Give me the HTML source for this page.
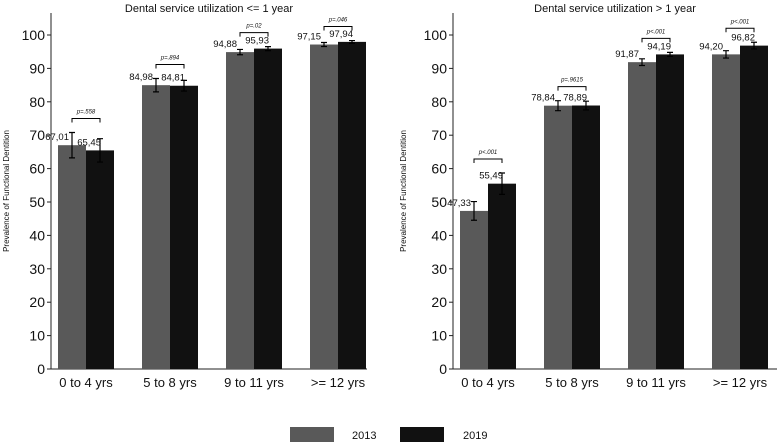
<!DOCTYPE html>
<html><head><meta charset="utf-8">
<style>
body{margin:0;background:#fff;}
svg{display:block;font-family:"Liberation Sans",Arial,sans-serif;}
</style></head>
<body>
<svg id="chart" width="779" height="447" viewBox="0 0 779 447"></svg>
<script>
const categories = ["0 to 4 yrs","5 to 8 yrs","9 to 11 yrs",">= 12 yrs"];
const seriesNames = ["2013","2019"];
const leftTitle = "Dental service utilization <= 1 year";
const rightTitle = "Dental service utilization > 1 year";
const left2013 = [67.01,84.98,94.88,97.15];
const left2019 = [65.45,84.81,95.93,97.94];
const left2013Err = [3.8,2.0,0.8,0.6];
const left2019Err = [3.5,1.6,0.6,0.4];
const left2013Lbl = ["67,01","84,98","94,88","97,15"];
const left2019Lbl = ["65,45","84,81","95,93","97,94"];
const leftP = ["p=.558","p=.894","p=.02","p=.046"];
const right2013 = [47.33,78.84,91.87,94.20];
const right2019 = [55.49,78.89,94.19,96.82];
const right2013Err = [2.8,1.5,1.0,1.1];
const right2019Err = [3.2,1.3,0.6,1.0];
const right2013Lbl = ["47,33","78,84","91,87","94,20"];
const right2019Lbl = ["55,49","78,89","94,19","96,82"];
const rightP = ["p<.001","p=.9615","p<.001","p<.001"];
const yTicks = [0,10,20,30,40,50,60,70,80,90,100];

const NS="http://www.w3.org/2000/svg";
const svg=document.getElementById('chart');
function mk(tag,attrs,parent){const e=document.createElementNS(NS,tag);for(const k in attrs)e.setAttribute(k,attrs[k]);(parent||svg).appendChild(e);return e;}
const Y0=369, PX=3.34;
function yS(v){return Y0-v*PX;}

function panel(ox,axisX,axisEnd,title,s1,s2,e1,e2,l1,l2,pv,name){
  const g=mk('g',{});
  
  
  const t=mk('text',{x:(axisX+axisEnd)/2,y:12,'text-anchor':'middle','font-size':11,fill:'#111'},g);
  t.textContent=title;
  
  
  const ax=mk('line',{x1:axisX,y1:13,x2:axisX,y2:Y0,stroke:'#222','stroke-width':1},g);
  
  
  const bx=mk('line',{x1:axisX,y1:Y0,x2:axisEnd,y2:Y0,stroke:'#222','stroke-width':1},g);
  
  
  yTicks.forEach(v=>{
    mk('line',{x1:axisX-4,y1:yS(v),x2:axisX,y2:yS(v),stroke:'#222'},g);
    const tl=mk('text',{x:axisX-6,y:yS(v)+5,'text-anchor':'end','font-size':14,fill:'#111'},g);
    tl.textContent=v;
    
    
  });
  const yt=mk('text',{transform:`translate(${ox+9},${(13+Y0)/2}) rotate(-90)`,'text-anchor':'middle','font-size':8,fill:'#111'},g);
  yt.textContent="Prevalence of Functional Dentition";
  
  
  const bw=28;
  categories.forEach((c,i)=>{
    const x0=axisX+7+i*84;
    [[s1,e1,l1,'#595959','bar-2013',-3],[s2,e2,l2,'#111111','bar-2019',1]].forEach((s,j)=>{
      const v=s[0][i], x=x0+j*bw, cx=x+bw/2;
      const r=mk('rect',{x:x,y:yS(v),width:bw,height:Y0-yS(v),fill:s[3]},g);
      
      
      const hi=yS(v+s[1][i]), lo=yS(v-s[1][i]);
      const eb=mk('path',{d:`M${cx},${hi}V${lo}M${cx-3},${hi}H${cx+3}M${cx-3},${lo}H${cx+3}`,stroke:'#000','stroke-width':1.2,fill:'none'},g);
      
      
      const lt=mk('text',{x:cx+s[5],y:yS(v)-5,'text-anchor':'end','font-size':9.5,fill:'#111'},g);
      lt.textContent=s[2][i];
      
      
    });
    const c1=x0+bw/2, c2=x0+bw*1.5;
    const top=Math.min(yS(s1[i]+e1[i]),yS(s2[i]+e2[i]))-14;
    const br=mk('path',{d:`M${c1},${top+4}V${top}H${c2}V${top+4}`,stroke:'#000','stroke-width':1,fill:'none'},g);
    
    
    const pt=mk('text',{x:(c1+c2)/2,y:top-5,'text-anchor':'middle','font-size':6,'font-style':'italic',fill:'#111'},g);
    pt.textContent=pv[i];
    
    
    const xl=mk('text',{x:x0+bw,y:387,'text-anchor':'middle','font-size':13,fill:'#111'},g);
    xl.textContent=c;
    
    
  });
}
panel(0,51,367,leftTitle,left2013,left2019,left2013Err,left2019Err,left2013Lbl,left2019Lbl,leftP,'left-panel');
panel(397,453,777,rightTitle,right2013,right2019,right2013Err,right2019Err,right2013Lbl,right2019Lbl,rightP,'right-panel');

const lg=mk('g',{});


[[290,352,'#595959'],[400,463,'#111111']].forEach((p,i)=>{
  const r=mk('rect',{x:p[0],y:427,width:44,height:15,fill:p[2]},lg);
  
  
  const t=mk('text',{x:p[1],y:439,'font-size':11,fill:'#111'},lg);
  t.textContent=seriesNames[i];
  
  
});
</script>
</body></html>
